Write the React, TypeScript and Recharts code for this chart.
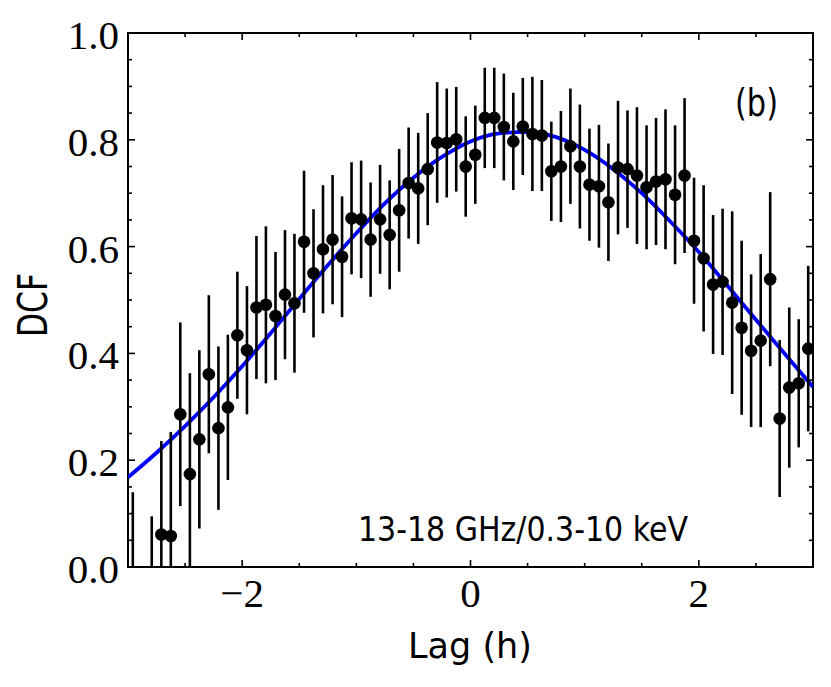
import {
  ComposedChart,
  Line,
  Scatter,
  ErrorBar,
  XAxis,
  YAxis,
  ReferenceArea,
  Customized,
} from 'recharts';

// DCF points (lag in hours), one bin at -2.875 h has no value
const lagHours = [
  -2.958, -2.792, -2.708, -2.625, -2.542, -2.458, -2.375, -2.292, -2.208, -2.125,
  -2.042, -1.958, -1.875, -1.792, -1.708, -1.625, -1.542, -1.458, -1.375, -1.292,
  -1.208, -1.125, -1.042, -0.958, -0.875, -0.792, -0.708, -0.625, -0.542, -0.458,
  -0.375, -0.292, -0.208, -0.125, -0.042, 0.042, 0.125, 0.208, 0.292, 0.375,
  0.458, 0.542, 0.625, 0.708, 0.792, 0.875, 0.958, 1.042, 1.125, 1.208,
  1.292, 1.375, 1.458, 1.542, 1.625, 1.708, 1.792, 1.875, 1.958, 2.042,
  2.125, 2.208, 2.292, 2.375, 2.458, 2.542, 2.625, 2.708, 2.792, 2.875,
  2.958,
];

const dcfValues = [
  -0.03, -0.075, 0.061, 0.058, 0.286, 0.174, 0.239, 0.361, 0.26, 0.299,
  0.434, 0.406, 0.486, 0.491, 0.47, 0.51, 0.494, 0.609, 0.55, 0.595,
  0.613, 0.581, 0.653, 0.651, 0.613, 0.651, 0.622, 0.668, 0.719, 0.709,
  0.745, 0.795, 0.794, 0.801, 0.75, 0.772, 0.841, 0.841, 0.824, 0.797,
  0.825, 0.811, 0.808, 0.741, 0.75, 0.788, 0.75, 0.716, 0.713, 0.683,
  0.748, 0.745, 0.733, 0.711, 0.722, 0.726, 0.697, 0.733, 0.611, 0.578,
  0.529, 0.534, 0.495, 0.448, 0.405, 0.424, 0.539, 0.278, 0.336, 0.344,
  0.409,
];

const dcfErrors = [
  0.17, 0.17, 0.175, 0.195, 0.172, 0.189, 0.167, 0.148, 0.153, 0.136,
  0.119, 0.12, 0.134, 0.147, 0.12, 0.121, 0.13, 0.133, 0.12, 0.12,
  0.121, 0.113, 0.105, 0.11, 0.107, 0.102, 0.102, 0.115, 0.104, 0.104,
  0.105, 0.113, 0.102, 0.098, 0.094, 0.092, 0.094, 0.094, 0.1, 0.091,
  0.091, 0.107, 0.104, 0.093, 0.104, 0.108, 0.116, 0.105, 0.115, 0.11,
  0.125, 0.11, 0.128, 0.116, 0.119, 0.131, 0.13, 0.145, 0.118, 0.137,
  0.13, 0.137, 0.171, 0.163, 0.143, 0.162, 0.163, 0.147, 0.15, 0.12,
  0.155,
];

// fitted curve
const fitLag = [
  -3, -2.75, -2.5, -2.25, -2, -1.75, -1.5, -1.25, -1, -0.75, -0.5, -0.25, 0,
  0.25, 0.5, 0.75, 1, 1.25, 1.5, 1.75, 2, 2.25, 2.5, 2.75, 3,
];
const fitDcf = [
  0.168, 0.214, 0.264, 0.318, 0.376, 0.438, 0.502, 0.565, 0.625, 0.681, 0.729, 0.768, 0.797,
  0.812, 0.815, 0.805, 0.781, 0.745, 0.7, 0.647, 0.59, 0.527, 0.463, 0.4, 0.337,
];

const xTicks = [-3, -2.5, -2, -1.5, -1, -0.5, 0, 0.5, 1, 1.5, 2, 2.5, 3];
const yTicks = [
  0, 0.05, 0.1, 0.15, 0.2, 0.25, 0.3, 0.35, 0.4, 0.45, 0.5, 0.55, 0.6, 0.65, 0.7, 0.75,
  0.8, 0.85, 0.9, 0.95, 1,
];

const points = lagHours.map((lag, i) => ({ lag, dcf: dcfValues[i], err: dcfErrors[i] }));
const curve = fitLag.map((lag, i) => ({ lag, fit: fitDcf[i] }));

const W = 831;
const H = 687;
const LEFT = 128;
const RIGHT = 813;
const TOP = 33;
const BOTTOM = 567;

const serif = '"Liberation Serif", "DejaVu Serif", serif';
const sans = '"DejaVu Sans", sans-serif';

function XTick(props: any) {
  const { x, payload } = props;
  const v = payload.value;
  const major = Math.abs(v % 2) < 1e-6;
  const len = major ? 7 : 4;
  const label = v < 0 ? `\u2212${Math.abs(v)}` : `${v}`;
  return (
    <g>
      <line x1={x} x2={x} y1={BOTTOM} y2={BOTTOM - len} stroke="#000" strokeWidth={1.6} />
      <line x1={x} x2={x} y1={TOP} y2={TOP + len} stroke="#000" strokeWidth={1.6} />
      {major && (
        <text x={x} y={BOTTOM + 40} textAnchor="middle" fontFamily={serif} fontSize={41} fill="#000">
          {label}
        </text>
      )}
    </g>
  );
}

function YTick(props: any) {
  const { y, payload } = props;
  const v = payload.value;
  const major = Math.abs(v * 5 - Math.round(v * 5)) < 1e-6;
  const len = major ? 7 : 4;
  return (
    <g>
      <line x1={LEFT} x2={LEFT + len} y1={y} y2={y} stroke="#000" strokeWidth={1.6} />
      <line x1={RIGHT} x2={RIGHT - len} y1={y} y2={y} stroke="#000" strokeWidth={1.6} />
      {major && (
        <text x={LEFT - 9} y={y + 16} textAnchor="end" fontFamily={serif} fontSize={41} fill="#000">
          {v.toFixed(1)}
        </text>
      )}
    </g>
  );
}

function Dot(props: any) {
  const { cx, cy } = props;
  if (cx == null || cy == null) return null;
  return <circle cx={cx} cy={cy} r={6.3} fill="#000" />;
}

function Texts() {
  return (
    <g fill="#000">
      <defs>
        <clipPath id="plotClip">
          <rect x={LEFT} y={TOP} width={RIGHT - LEFT} height={BOTTOM - TOP} />
        </clipPath>
      </defs>
      <text x={470} y={658} textAnchor="middle" fontFamily={sans} fontSize={35}>
        Lag (h)
      </text>
      <text
        x={0}
        y={0}
        transform="translate(47, 305) rotate(-90)"
        textAnchor="middle"
        fontFamily={sans}
        fontSize={41}
        textLength={64}
        lengthAdjust="spacingAndGlyphs"
      >
        DCF
      </text>
      <text x={358} y={541} fontFamily={sans} fontSize={34} textLength={330} lengthAdjust="spacingAndGlyphs">
        13-18 GHz/0.3-10 keV
      </text>
      <text x={735} y={116} fontFamily={sans} fontSize={37} textLength={43} lengthAdjust="spacingAndGlyphs">
        (b)
      </text>
    </g>
  );
}

export default function App() {
  return (
    <div style={{ position: 'absolute', left: 0, top: 0, background: '#fff' }}>
      <style>{'.recharts-errorBars, .recharts-errorBar { clip-path: url(#plotClip); }'}</style>
      <ComposedChart width={W} height={H} margin={{ top: TOP, right: W - RIGHT, bottom: 0, left: 0 }}>
        <XAxis
          dataKey="lag"
          type="number"
          domain={[-3, 3]}
          ticks={xTicks}
          interval={0}
          allowDataOverflow
          axisLine={false}
          tickLine={false}
          height={H - BOTTOM}
          tick={<XTick />}
        />
        <YAxis
          type="number"
          domain={[0, 1]}
          ticks={yTicks}
          interval={0}
          allowDataOverflow
          axisLine={false}
          tickLine={false}
          width={LEFT}
          tick={<YTick />}
        />
        <Line
          data={curve}
          dataKey="fit"
          type="monotone"
          stroke="#0000ff"
          strokeWidth={3.8}
          dot={false}
          isAnimationActive={false}
        />
        <Scatter data={points} dataKey="dcf" shape={<Dot />} isAnimationActive={false}>
          <ErrorBar dataKey="err" direction="y" width={0} stroke="#000" strokeWidth={2.6} />
        </Scatter>
        <ReferenceArea x1={-3} x2={3} y1={0} y2={1} fill="none" stroke="#000" strokeWidth={2} />
        <Customized component={<Texts />} />
      </ComposedChart>
    </div>
  );
}
